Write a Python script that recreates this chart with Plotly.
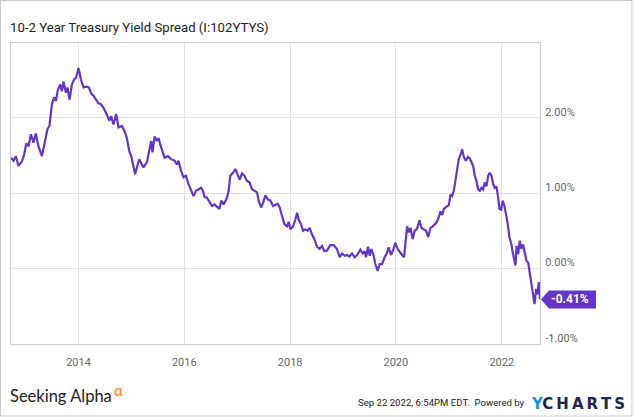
import plotly.graph_objects as go
from datetime import datetime

title_text = "10-2 Year Treasury Yield Spread (I:102YTYS)"
footer_text = "Sep 22 2022, 6:54PM EDT.\u00a0 Powered by"

t_years = [
    2012.724, 2012.771, 2012.816, 2012.865, 2012.929, 2012.973, 2013.011, 2013.054, 2013.100, 2013.149,
    2013.194, 2013.243, 2013.308, 2013.370, 2013.414, 2013.451, 2013.497, 2013.540, 2013.573, 2013.610,
    2013.654, 2013.686, 2013.716, 2013.762, 2013.792, 2013.830, 2013.875, 2013.919, 2013.956, 2014.000,
    2014.045, 2014.095, 2014.146, 2014.197, 2014.240, 2014.284, 2014.335, 2014.378, 2014.424, 2014.473,
    2014.537, 2014.586, 2014.618, 2014.662, 2014.713, 2014.757, 2014.821, 2014.870, 2014.915, 2014.959,
    2014.997, 2015.040, 2015.072, 2015.105, 2015.148, 2015.186, 2015.229, 2015.294, 2015.337, 2015.375,
    2015.400, 2015.437, 2015.483, 2015.513, 2015.545, 2015.577, 2015.627, 2015.691, 2015.753, 2015.816,
    2015.861, 2015.891, 2015.942, 2015.986, 2016.031, 2016.081, 2016.132, 2016.175, 2016.221, 2016.270,
    2016.321, 2016.353, 2016.383, 2016.429, 2016.472, 2016.523, 2016.572, 2016.618, 2016.661, 2016.699,
    2016.743, 2016.807, 2016.837, 2016.869, 2016.920, 2016.964, 2017.007, 2017.045, 2017.091, 2017.134,
    2017.185, 2017.234, 2017.280, 2017.329, 2017.374, 2017.405, 2017.450, 2017.488, 2017.531, 2017.575,
    2017.626, 2017.677, 2017.720, 2017.764, 2017.802, 2017.847, 2017.891, 2017.942, 2017.972, 2018.004,
    2018.055, 2018.099, 2018.131, 2018.161, 2018.206, 2018.244, 2018.288, 2018.331, 2018.369, 2018.415,
    2018.458, 2018.509, 2018.558, 2018.604, 2018.647, 2018.698, 2018.761, 2018.823, 2018.887, 2018.937,
    2018.982, 2019.031, 2019.077, 2019.120, 2019.171, 2019.220, 2019.266, 2019.328, 2019.372, 2019.409,
    2019.436, 2019.474, 2019.504, 2019.536, 2019.580, 2019.612, 2019.655, 2019.693, 2019.738, 2019.788,
    2019.833, 2019.863, 2019.909, 2019.952, 2019.990, 2020.034, 2020.079, 2020.117, 2020.155, 2020.179,
    2020.211, 2020.242, 2020.274, 2020.317, 2020.355, 2020.401, 2020.444, 2020.482, 2020.525, 2020.571,
    2020.609, 2020.652, 2020.696, 2020.766, 2020.809, 2020.841, 2020.873, 2020.904, 2020.955, 2020.998,
    2021.030, 2021.062, 2021.093, 2021.125, 2021.157, 2021.187, 2021.220, 2021.252, 2021.282, 2021.320,
    2021.358, 2021.395, 2021.428, 2021.460, 2021.490, 2021.522, 2021.554, 2021.585, 2021.617, 2021.649,
    2021.679, 2021.711, 2021.743, 2021.774, 2021.806, 2021.838, 2021.868, 2021.900, 2021.932, 2021.957,
    2021.989, 2022.019, 2022.052, 2022.084, 2022.114, 2022.146, 2022.178, 2022.209, 2022.241, 2022.260,
    2022.279, 2022.311, 2022.341, 2022.373, 2022.405, 2022.436, 2022.468, 2022.500, 2022.530, 2022.562,
    2022.594, 2022.619, 2022.651, 2022.676, 2022.700, 2022.724,
]

spread = [
    1.47, 1.43, 1.49, 1.36, 1.42, 1.51, 1.66, 1.62, 1.78, 1.67,
    1.79, 1.62, 1.49, 1.69, 1.85, 1.89, 2.18, 2.27, 2.22, 2.37,
    2.44, 2.35, 2.48, 2.33, 2.40, 2.24, 2.44, 2.51, 2.53, 2.66,
    2.51, 2.40, 2.41, 2.40, 2.32, 2.29, 2.24, 2.19, 2.18, 2.13,
    2.04, 1.96, 2.02, 1.91, 2.05, 1.87, 1.89, 1.82, 1.73, 1.56,
    1.49, 1.34, 1.25, 1.34, 1.45, 1.40, 1.34, 1.41, 1.58, 1.69,
    1.54, 1.75, 1.69, 1.73, 1.65, 1.58, 1.47, 1.49, 1.45, 1.43,
    1.38, 1.43, 1.29, 1.21, 1.23, 1.12, 1.03, 0.96, 1.03, 1.05,
    1.07, 1.03, 0.95, 0.94, 0.88, 0.83, 0.85, 0.82, 0.79, 0.90,
    0.85, 0.94, 1.03, 1.23, 1.27, 1.32, 1.25, 1.18, 1.26, 1.23,
    1.16, 1.14, 1.05, 1.03, 1.01, 0.90, 0.81, 0.87, 0.97, 0.92,
    0.90, 0.83, 0.85, 0.86, 0.81, 0.68, 0.59, 0.56, 0.62, 0.52,
    0.56, 0.65, 0.74, 0.65, 0.59, 0.50, 0.52, 0.50, 0.54, 0.45,
    0.39, 0.29, 0.26, 0.30, 0.23, 0.24, 0.31, 0.31, 0.26, 0.15,
    0.20, 0.17, 0.18, 0.16, 0.20, 0.15, 0.18, 0.25, 0.20, 0.23,
    0.15, 0.29, 0.17, 0.26, 0.17, 0.06, -0.03, 0.06, 0.06, 0.15,
    0.21, 0.28, 0.18, 0.25, 0.34, 0.26, 0.21, 0.18, 0.15, 0.31,
    0.56, 0.48, 0.54, 0.39, 0.50, 0.53, 0.64, 0.54, 0.52, 0.50,
    0.42, 0.54, 0.56, 0.61, 0.68, 0.76, 0.71, 0.79, 0.82, 0.84,
    0.98, 0.96, 1.03, 1.18, 1.29, 1.45, 1.51, 1.58, 1.48, 1.43,
    1.48, 1.46, 1.41, 1.36, 1.23, 1.16, 1.05, 1.03, 1.07, 1.05,
    1.14, 1.09, 1.23, 1.27, 1.23, 1.12, 1.07, 1.09, 0.94, 0.79,
    0.78, 0.90, 0.83, 0.72, 0.59, 0.41, 0.34, 0.21, 0.12, 0.04,
    0.30, 0.19, 0.37, 0.26, 0.32, 0.23, 0.10, 0.08, -0.05, -0.21,
    -0.32, -0.47, -0.27, -0.34, -0.18, -0.41,
]

y_tick_vals = [-1, 0, 1, 2]
y_tick_text = ["-1.00%", "0.00%", "1.00%", "2.00%"]
last_value = -0.41
last_label = "-0.41%"
x_range = ["2012-09-22", "2022-09-22"]
y_range = [-1.0, 2.99]

LINE_COLOR = "#6236c9"
FONT = "Roboto, sans-serif"


def to_date(t):
    y = int(t)
    start = datetime(y, 1, 1)
    end = datetime(y + 1, 1, 1)
    return start + (end - start) * (t - y)


dates = [to_date(t) for t in t_years]

fig = go.Figure()
fig.add_trace(go.Scatter(
    x=dates, y=spread, mode="lines",
    line=dict(color=LINE_COLOR, width=2.2),
    hoverinfo="skip", showlegend=False,
))

W, H = 635, 417
ml, mr, mt, mb = 11, 95, 43, 73
pw = W - ml - mr
ph = H - mt - mb


def px_x(p):
    return (p - ml) / pw


def px_y(p):
    return (H - mb - p) / ph


fig.update_layout(
    width=W, height=H,
    margin=dict(l=ml, r=mr, t=mt, b=mb, pad=0),
    paper_bgcolor="white", plot_bgcolor="white",
    showlegend=False,
    xaxis=dict(
        type="date", range=x_range,
        tick0="2014-01-01", dtick="M24", tickformat="%Y",
        showgrid=True, gridcolor="#e2e2e2", gridwidth=1,
        showline=True, linecolor="#cccccc", linewidth=1, mirror=True,
        ticks="", ticklabelstandoff=8,
        tickfont=dict(family=FONT, size=11, color="#666666"),
        zeroline=False,
    ),
    yaxis=dict(
        side="right", range=y_range,
        tickvals=y_tick_vals, ticktext=y_tick_text,
        showgrid=True, gridcolor="#e2e2e2", gridwidth=1,
        showline=True, linecolor="#cccccc", linewidth=1, mirror=True,
        ticks="", ticklabelstandoff=2, ticklabelshift=-6,
        tickfont=dict(family=FONT, size=11, color="#666666"),
        zeroline=False,
    ),
)

# end value tag
fig.add_shape(
    type="path", xref="paper", yref="y",
    xsizemode="pixel", ysizemode="pixel", xanchor=1, yanchor=last_value,
    path="M 1 0 L 9 9 L 56 9 L 56 -9 L 9 -9 Z",
    fillcolor=LINE_COLOR, line=dict(width=0), layer="above",
)
fig.add_annotation(
    x=1, xref="paper", y=last_value, yref="y", xanchor="center", yanchor="middle",
    xshift=30, text="<b>" + last_label + "</b>", showarrow=False,
    font=dict(family=FONT, size=12, color="white"),
)

# title
fig.add_annotation(
    x=px_x(8), xref="paper", y=px_y(27), yref="paper",
    xanchor="left", yanchor="middle", text=title_text, showarrow=False,
    font=dict(family=FONT, size=13.2, color="#222222"),
)

# footer
fig.add_annotation(
    x=px_x(8), xref="paper", y=px_y(396), yref="paper",
    xanchor="left", yanchor="middle", text="Seeking Alpha", showarrow=False,
    font=dict(family="Lato, sans-serif", size=16.5, color="#222222"),
)
fig.add_annotation(
    x=px_x(112), xref="paper", y=px_y(390), yref="paper",
    xanchor="left", yanchor="middle", text="\u03b1", showarrow=False,
    font=dict(family="Lato, sans-serif", size=15, color="#ff7a00"),
)
fig.add_annotation(
    x=px_x(527), xref="paper", y=px_y(402), yref="paper",
    xanchor="right", yanchor="middle", text=footer_text, showarrow=False,
    font=dict(family=FONT, size=9.6, color="#222222"),
)
fig.add_annotation(
    x=px_x(529), xref="paper", y=px_y(403.5), yref="paper",
    xanchor="left", yanchor="middle",
    text="<span style='color:#1e8cf0'>Y</span>C\u2009H\u2009A\u2009R\u2009T\u2009S",
    showarrow=False,
    font=dict(family="DejaVu Sans, sans-serif", size=15, color="#1b2a4a", weight="bold"),
)

# outer frame
fig.add_shape(
    type="rect", xref="paper", yref="paper",
    x0=px_x(0.5), x1=px_x(632), y0=px_y(416), y1=px_y(0.5),
    line=dict(color="#cccccc", width=1), fillcolor="rgba(0,0,0,0)", layer="below",
)

fig.write_html("out.html")
